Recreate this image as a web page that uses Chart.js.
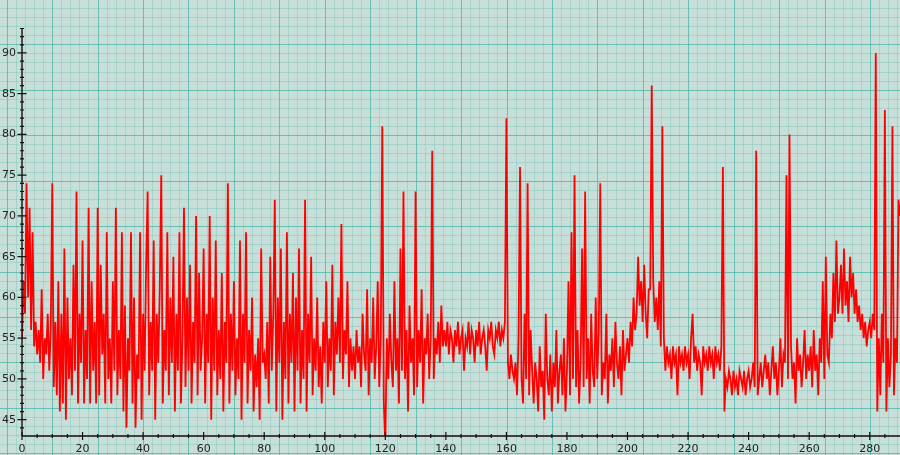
<!DOCTYPE html>
<html>
<head>
<meta charset="utf-8">
<script src="https://cdn.jsdelivr.net/npm/chart.js@4.4.1/dist/chart.umd.min.js"></script>
<style>
html,body{margin:0;padding:0;background:#c7ded7;}
#wrap{width:900px;height:455px;position:relative;}
</style>
</head>
<body>
<div id="wrap"><canvas id="c" width="900" height="455"></canvas></div>
<script>
// x step between samples
const xStep = 0.5;
// y values sampled every 0.5 x-units from 0 to 290
const values = [
 55,62,58,74,60,71,56,68,54,57,53,56,52,61,50,55,53,58,51,56,
 74,49,57,48,62,46,58,47,66,45,60,50,55,48,64,51,73,47,58,52,
 67,47,56,50,71,47,62,51,57,47,71,48,64,53,58,47,68,50,55,47,
 62,51,71,48,56,50,68,46,59,44,55,51,68,47,60,44,53,50,68,45,
 58,51,64,73,48,57,51,67,45,58,52,61,75,47,56,51,68,48,60,52,
 65,46,58,51,68,47,55,71,49,60,51,64,47,57,52,70,48,63,51,55,
 66,47,58,52,70,45,60,51,67,48,56,50,63,46,57,52,74,47,58,51,
 62,48,55,50,67,45,58,52,68,47,56,51,60,46,53,49,55,45,66,52,
 53,50,57,47,65,51,58,72,46,60,52,66,45,57,50,68,47,58,52,63,
 46,60,51,66,47,56,50,72,46,58,52,65,48,55,51,60,49,54,47,57,
 52,62,49,55,51,64,48,57,53,60,52,69,50,56,53,62,49,55,51,54,
 50,56,52,54,49,58,53,51,61,48,55,52,60,50,54,62,49,55,81,47,
 42,55,50,58,52,49,62,51,55,47,66,51,73,50,56,46,59,52,55,48,
 73,49,56,52,61,47,55,53,58,50,55,78,50,55,53,57,52,59,54,56,
 54,57,53,56,55,52,56,54,57,53,55,56,51,55,54,57,53,56,55,52,
 56,54,57,53,55,56,54,51,56,55,57,54,53,56,55,57,54,56,55,57,
 82,52,50,53,51,50,52,48,55,76,50,47,58,50,74,48,56,51,47,52,
 50,46,54,49,51,45,58,50,48,53,46,52,49,56,47,51,53,48,55,46,
 51,62,48,68,50,75,49,56,47,52,66,49,73,50,55,47,58,51,49,60,
 50,56,74,48,52,50,58,47,53,51,55,49,57,52,50,54,48,56,51,53,
 55,52,57,54,60,56,58,65,59,62,57,64,58,55,61,61,86,62,57,60,
 56,62,54,81,55,51,54,52,53,50,54,52,53,48,54,52,53,51,54,52,
 53,50,55,58,52,54,51,53,52,48,54,52,53,51,54,52,53,50,54,52,
 53,51,54,76,46,50,49,51,50,48,51,49,50,48,51,50,49,51,48,50,
 51,49,50,52,49,78,48,50,52,49,51,53,50,52,48,51,54,50,52,48,
 51,55,49,53,52,75,50,80,54,50,52,47,55,51,53,49,52,56,50,53,
 51,54,49,56,51,53,48,55,52,62,50,65,53,52,58,55,63,57,67,58,
 60,64,58,66,59,62,57,65,60,63,58,61,57,59,56,58,55,57,54,56,
 57,55,58,56,90,46,55,48,58,52,83,46,55,49,53,81,48,55,52,72,70
];
const xTickLabels = [0,20,40,60,80,100,120,140,160,180,200,220,240,260,280];
const yTickLabels = [45,50,55,60,65,70,75,80,85,90];
const xMin = 0, xMax = 290, yMin = 43, yMax = 96.5, yAxisTop = 93;

const points = values.map((v, i) => ({x: i * xStep, y: v}));

const paperPlugin = {
  id: 'paper',
  beforeDraw(chart) {
    const ctx = chart.ctx, W = chart.width, H = chart.height;
    ctx.save();
    ctx.fillStyle = '#c8ded8';
    ctx.fillRect(0, 0, W, H);
    const major = 45.45, minor = major / 5;
    const ox = 6.6 - major, oy = 44.3 - major;
    // minor lines
    ctx.strokeStyle = 'rgba(90,190,175,0.30)';
    ctx.lineWidth = 1;
    ctx.beginPath();
    for (let x = ox; x < W; x += minor) { const px = Math.round(x) + 0.5; ctx.moveTo(px, 0); ctx.lineTo(px, H); }
    for (let y = oy; y < H; y += minor) { const py = Math.round(y) + 0.5; ctx.moveTo(0, py); ctx.lineTo(W, py); }
    ctx.stroke();
    // major lines
    ctx.strokeStyle = 'rgba(70,180,165,0.65)';
    ctx.lineWidth = 1;
    ctx.beginPath();
    for (let x = ox; x < W; x += major) { const px = Math.round(x) + 0.5; ctx.moveTo(px, 0); ctx.lineTo(px, H); }
    for (let y = oy; y < H; y += major) { const py = Math.round(y) + 0.5; ctx.moveTo(0, py); ctx.lineTo(W, py); }
    ctx.stroke();
    ctx.restore();
  },
  afterDraw(chart) {
    const ctx = chart.ctx, xs = chart.scales.x, ys = chart.scales.y;
    const x0 = xs.getPixelForValue(xMin), y0 = ys.getPixelForValue(yMin);
    ctx.save();
    ctx.strokeStyle = '#111';
    ctx.lineWidth = 1.4;
    ctx.beginPath();
    ctx.moveTo(x0, y0); ctx.lineTo(chart.width, y0);
    ctx.moveTo(x0, y0); ctx.lineTo(x0, ys.getPixelForValue(yAxisTop));
    ctx.stroke();
    ctx.lineWidth = 1.2;
    ctx.beginPath();
    for (let v = 0; v <= 285; v += 5) {
      const px = xs.getPixelForValue(v);
      const len = (v % 20 === 0) ? 4 : 2;
      ctx.moveTo(px, y0 - len); ctx.lineTo(px, y0 + len);
    }
    for (let v = 44; v <= yAxisTop; v += 1) {
      const py = ys.getPixelForValue(v);
      const len = (v % 5 === 0) ? 4.5 : 2;
      ctx.moveTo(x0 - len, py); ctx.lineTo(x0 + len, py);
    }
    ctx.stroke();
    ctx.restore();
  }
};

new Chart(document.getElementById('c'), {
  type: 'line',
  data: {
    datasets: [{
      data: points,
      borderColor: '#ff0000',
      borderWidth: 1.8,
      pointRadius: 0,
      tension: 0,
      fill: false
    }]
  },
  options: {
    responsive: false,
    animation: false,
    events: [],
    layout: {padding: 0},
    plugins: {legend: {display: false}, tooltip: {enabled: false}},
    scales: {
      x: {
        type: 'linear', min: xMin, max: xMax,
        grid: {display: false, drawTicks: false},
        border: {display: false},
        afterBuildTicks: s => { s.ticks = xTickLabels.map(v => ({value: v})); },
        afterFit: s => { s.height = 19; s.paddingLeft = 0; s.paddingRight = 0; },
        ticks: {color: '#222', font: {family: 'DejaVu Sans', size: 11}, padding: 7, maxRotation: 0, autoSkip: false}
      },
      y: {
        min: yMin, max: yMax,
        grid: {display: false, drawTicks: false},
        border: {display: false},
        afterBuildTicks: s => { s.ticks = yTickLabels.map(v => ({value: v})); },
        afterFit: s => { s.width = 22; s.paddingTop = 0; s.paddingBottom = 0; },
        ticks: {color: '#222', font: {family: 'DejaVu Sans', size: 11}, padding: 6, autoSkip: false}
      }
    }
  },
  plugins: [paperPlugin]
});
</script>
</body>
</html>
